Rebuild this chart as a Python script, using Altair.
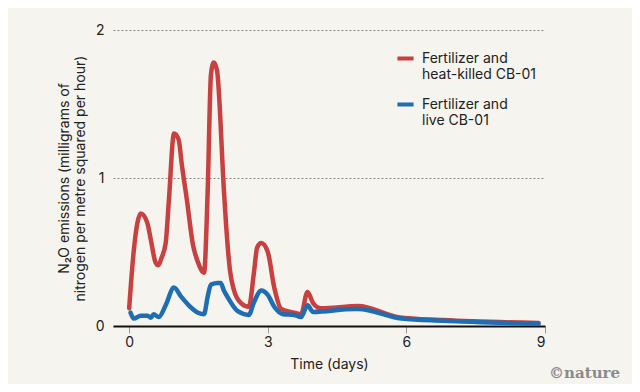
import altair as alt
import pandas as pd

# Fertilizer and heat-killed CB-01 (red)
red_days = [0.0, 0.10, 0.25, 0.39, 0.47, 0.57, 0.63, 0.70, 0.79, 0.86, 0.97, 1.07, 1.14, 1.25,
            1.38, 1.49, 1.62, 1.70, 1.77, 1.83, 1.90, 2.05, 2.09, 2.18, 2.27, 2.42, 2.59, 2.70,
            2.77, 2.86, 3.00, 3.14, 3.29, 3.57, 3.72, 3.86, 3.98, 4.15, 4.96, 5.82, 6.8, 8.86]
red_vals = [0.12, 0.51, 0.76, 0.70, 0.58, 0.43, 0.41, 0.46, 0.56, 0.85, 1.30, 1.26, 1.09, 0.85,
            0.55, 0.43, 0.36, 0.92, 1.70, 1.78, 1.73, 0.92, 0.72, 0.38, 0.24, 0.155, 0.13, 0.36,
            0.53, 0.56, 0.50, 0.26, 0.115, 0.09, 0.08, 0.23, 0.155, 0.12, 0.135, 0.06, 0.04, 0.02]

# Fertilizer and live CB-01 (blue)
blue_days = [0.03, 0.10, 0.25, 0.40, 0.47, 0.53, 0.64, 0.79, 0.97, 1.12, 1.29, 1.49, 1.62, 1.70,
             1.77, 1.92, 1.98, 2.05, 2.14, 2.35, 2.59, 2.70, 2.86, 3.00, 3.14, 3.33, 3.57, 3.72,
             3.86, 3.98, 4.87, 4.96, 5.89, 6.8, 8.86]
blue_vals = [0.09, 0.05, 0.07, 0.07, 0.055, 0.08, 0.06, 0.14, 0.26, 0.20, 0.14, 0.09, 0.08, 0.20,
             0.28, 0.29, 0.29, 0.24, 0.19, 0.10, 0.075, 0.16, 0.24, 0.21, 0.13, 0.08, 0.075, 0.06,
             0.14, 0.095, 0.115, 0.115, 0.05, 0.035, 0.015]

series_names = ["Fertilizer and|heat-killed CB-01", "Fertilizer and|live CB-01"]
series_colors = ["#c8403f", "#1f6db2"]
x_ticks = [0, 3, 6, 9]
y_ticks = [0, 1, 2]

rows = []
for d, v in zip(red_days, red_vals):
    rows.append({"day": d, "value": v, "series": series_names[0], "order": 0})
for d, v in zip(blue_days, blue_vals):
    rows.append({"day": d, "value": v, "series": series_names[1], "order": 1})
df = pd.DataFrame(rows)

BG = "#f6f4ee"
FONT = "Inter"

lines = alt.Chart(df).mark_line(strokeWidth=4.5, interpolate="monotone", strokeCap="round").encode(
    x=alt.X("day:Q", scale=alt.Scale(domain=[-0.35, 9], nice=False),
            axis=alt.Axis(values=x_ticks, title="Time (days)", grid=False,
                          domainColor="#111111", domainWidth=2, tickColor="#999999",
                          tickSize=7, tickWidth=1, labelFontSize=14, labelColor="#222222",
                          labelPadding=2, titleFontSize=14, titleFontWeight="normal",
                          titleColor="#222222", titlePadding=8, labelFont=FONT, titleFont=FONT)),
    y=alt.Y("value:Q", scale=alt.Scale(domain=[0, 2], nice=False),
            axis=alt.Axis(values=y_ticks, domain=False, ticks=False, grid=True,
                          labelExpr="round(datum.value) + ''",
                          gridDash=[2, 2], gridColor="#888888", gridWidth=1,
                          labelFontSize=14, labelColor="#222222", labelPadding=9,
                          title=["N\u2082O emissions (milligrams of",
                                 "nitrogen per metre squared per hour)"],
                          titleFontSize=14, titleFontWeight="normal", titleColor="#222222",
                          titlePadding=8, labelFont=FONT, titleFont=FONT)),
    color=alt.Color("series:N", scale=alt.Scale(domain=series_names, range=series_colors),
                    legend=alt.Legend(orient="none", legendX=282, legendY=18, title=None,
                                      symbolType="stroke", symbolStrokeWidth=4,
                                      symbolSize=260, labelFontSize=14, labelFont=FONT,
                                      labelColor="#222222", rowPadding=12, labelOffset=6,
                                      labelExpr="split(datum.label, '|')", labelLimit=300)),
    order="order:Q",
)

credit = alt.Chart(pd.DataFrame({"t": ["\u00a9nature"]})).mark_text(
    font="DejaVu Serif", fontWeight="bold", fontSize=15, color="#8a8a8a", align="right",
    baseline="middle"
).encode(text="t:N", x=alt.value(507), y=alt.value(343))

chart = alt.layer(lines, credit).properties(
    width=432, height=296, background=BG,
    autosize=alt.AutoSizeParams(type="none"),
    padding={"left": 105, "top": 22, "right": 87, "bottom": 58},
).configure_view(stroke=None)

chart.save("out.html", embed_options={"renderer": "svg", "actions": False})
